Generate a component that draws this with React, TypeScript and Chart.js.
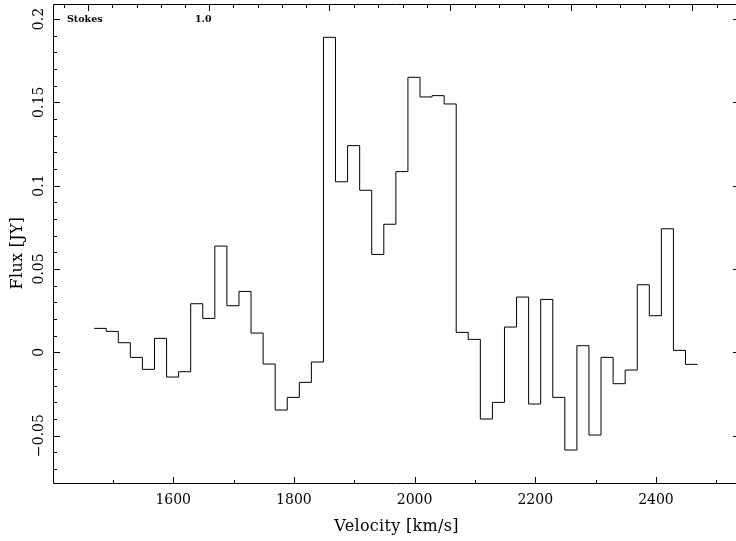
import React, { useEffect, useRef } from "react";
import { Chart, registerables } from "chart.js";

Chart.register(...registerables);

// Bin centres (km/s) of the spectrum channels
const velocities = [
  1479, 1499, 1519, 1539, 1559, 1579, 1599, 1619, 1639, 1659,
  1679, 1699, 1719, 1739, 1759, 1779, 1799, 1819, 1839, 1859,
  1879, 1899, 1919, 1939, 1959, 1979, 1999, 2019, 2039, 2059,
  2079, 2099, 2119, 2139, 2159, 2179, 2199, 2219, 2239, 2259,
  2279, 2299, 2319, 2339, 2359, 2379, 2399, 2419, 2439, 2459,
];

// Flux density (Jy) per channel
const flux = [
  0.0143, 0.0125, 0.0057, -0.0031, -0.0103, 0.0083, -0.0149, -0.0117, 0.0291, 0.0203,
  0.0637, 0.0279, 0.0365, 0.0115, -0.0071, -0.0347, -0.0271, -0.0181, -0.0059, 0.189,
  0.1023, 0.124, 0.0972, 0.0587, 0.0768, 0.1084, 0.165, 0.1532, 0.154, 0.149,
  0.0119, 0.0077, -0.0401, -0.0301, 0.0151, 0.0331, -0.0311, 0.0317, -0.0271, -0.0587,
  0.0039, -0.0497, -0.0031, -0.0189, -0.0107, 0.0405, 0.0219, 0.0741, 0.0011, -0.0073,
];

const xTickValues = [1600, 1800, 2000, 2200, 2400];
const xTickLabels = ["1600", "1800", "2000", "2200", "2400"];
const xMinorTicks = [1500, 1700, 1900, 2100, 2300, 2500];
const topMajorTicks = [1459, 1659.5, 1859, 2059.5, 2260, 2460];
const yTickValues = [-0.05, 0, 0.05, 0.1, 0.15, 0.2];
const yTickLabels = ["\u22120.05", "0", "0.05", "0.1", "0.15", "0.2"];

const X_MIN = 1400.8;
const X_MAX = 2539.3;
const Y_MIN = -0.0791;
const Y_MAX = 0.209;

const xTitle = "Velocity [km/s]";
const yTitle = "Flux [JY]";
const cornerLeft = "Stokes";
const cornerRight = "1.0";

const SERIF = "'DejaVu Serif', serif";

const framePlugin = {
  id: "pgFrame",
  afterDraw(chart: any) {
    const { ctx, chartArea } = chart;
    const xs = chart.scales.x;
    const ys = chart.scales.y;
    const L = chartArea.left;
    const R = chartArea.right;
    const T = chartArea.top;
    const B = chartArea.bottom;
    const px = (v: number) => Math.round(xs.getPixelForValue(v)) + 0.5;
    const py = (v: number) => Math.round(ys.getPixelForValue(v)) + 0.5;
    const MAJ = 7;
    const MIN = 4;

    ctx.save();
    ctx.strokeStyle = "#000";
    ctx.lineWidth = 1;
    ctx.beginPath();
    ctx.rect(L + 0.5, T + 0.5, R - L - 1, B - T - 1);
    ctx.stroke();

    ctx.beginPath();
    // bottom ticks
    xTickValues.forEach((v) => {
      const x = px(v);
      ctx.moveTo(x, B);
      ctx.lineTo(x, B - MAJ);
    });
    xMinorTicks.forEach((v) => {
      const x = px(v);
      ctx.moveTo(x, B);
      ctx.lineTo(x, B - MIN);
    });
    // top ticks
    const step = (topMajorTicks[1] - topMajorTicks[0]) / 5;
    topMajorTicks.forEach((v) => {
      const x = px(v);
      ctx.moveTo(x, T);
      ctx.lineTo(x, T + MAJ);
    });
    for (let k = -5; k <= 5 * topMajorTicks.length; k++) {
      if (k % 5 === 0) continue;
      const v = topMajorTicks[0] + k * step;
      if (v <= X_MIN || v >= X_MAX) continue;
      const x = px(v);
      ctx.moveTo(x, T);
      ctx.lineTo(x, T + MIN);
    }
    // left / right ticks
    for (let k = -7; k <= 20; k++) {
      const v = k / 100;
      if (v <= Y_MIN || v >= Y_MAX) continue;
      const y = py(v);
      const len = k % 5 === 0 ? MAJ : MIN;
      ctx.moveTo(L, y);
      ctx.lineTo(L + len, y);
      ctx.moveTo(R, y);
      ctx.lineTo(R - len, y);
    }
    ctx.stroke();

    // tick labels
    ctx.fillStyle = "#000";
    ctx.font = `14px ${SERIF}`;
    ctx.textAlign = "center";
    ctx.textBaseline = "middle";
    xTickValues.forEach((v, i) => {
      ctx.fillText(xTickLabels[i], xs.getPixelForValue(v), 500);
    });
    yTickValues.forEach((v, i) => {
      ctx.save();
      ctx.translate(39, ys.getPixelForValue(v));
      ctx.rotate(-Math.PI / 2);
      ctx.fillText(yTickLabels[i], 0, 0);
      ctx.restore();
    });

    // axis titles
    ctx.font = `16px ${SERIF}`;
    (ctx as any).letterSpacing = "0.3px";
    ctx.fillText(xTitle, (L + R) / 2, 527);
    ctx.save();
    ctx.translate(18, 253);
    ctx.rotate(-Math.PI / 2);
    ctx.fillText(yTitle, 0, 0);
    ctx.restore();
    (ctx as any).letterSpacing = "0px";

    // corner annotation
    ctx.font = `bold 9.5px ${SERIF}`;
    ctx.textAlign = "left";
    ctx.fillText(cornerLeft, 67, 20);
    ctx.fillText(cornerRight, 195, 20);
    ctx.restore();
  },
};

export default function App() {
  const canvasRef = useRef<HTMLCanvasElement | null>(null);

  useEffect(() => {
    if (!canvasRef.current) return;
    const w = velocities[1] - velocities[0];
    const points = velocities.map((v, i) => ({ x: v - w / 2, y: flux[i] }));
    points.push({ x: velocities[velocities.length - 1] + w / 2, y: flux[flux.length - 1] });

    const chart = new Chart(canvasRef.current, {
      type: "line",
      data: {
        datasets: [
          {
            data: points,
            borderColor: "#000",
            borderWidth: 1,
            pointRadius: 0,
            stepped: true,
            fill: false,
            tension: 0,
          },
        ],
      },
      options: {
        animation: false,
        responsive: false,
        events: [],
        layout: { padding: { left: 53, top: 4, right: 20, bottom: 57 } },
        plugins: { legend: { display: false }, tooltip: { enabled: false } },
        scales: {
          x: { type: "linear", min: X_MIN, max: X_MAX, display: false },
          y: { type: "linear", min: Y_MIN, max: Y_MAX, display: false },
        },
      },
      plugins: [framePlugin],
    } as any);
    return () => chart.destroy();
  }, []);

  return (
    <div
      style={{
        position: "fixed",
        left: 0,
        top: 0,
        width: 736,
        height: 541,
        overflow: "hidden",
        background: "#fff",
      }}
    >
      <canvas ref={canvasRef} width={760} height={541} style={{ display: "block" }} />
    </div>
  );
}
